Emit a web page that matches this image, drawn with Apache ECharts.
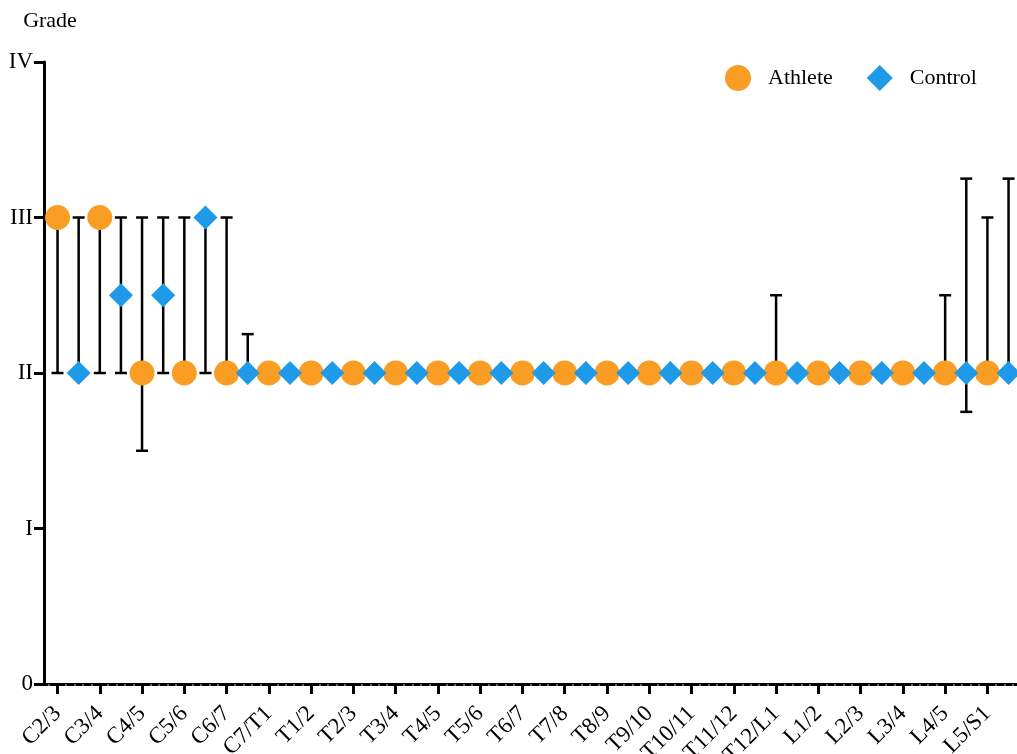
<!DOCTYPE html>
<html>
<head>
<meta charset="utf-8">
<script src="https://cdn.jsdelivr.net/npm/echarts@6/dist/echarts.min.js"></script>
<style>
  html, body { margin: 0; padding: 0; background: #fff; }
  #chart { width: 1017px; height: 754px; }
</style>
</head>
<body>
<div id="chart"></div>
<script>
var categories = ["C2/3", "C3/4", "C4/5", "C5/6", "C6/7", "C7/T1", "T1/2", "T2/3", "T3/4", "T4/5",
  "T5/6", "T6/7", "T7/8", "T8/9", "T9/10", "T10/11", "T11/12", "T12/L1", "L1/2", "L2/3", "L3/4", "L4/5", "L5/S1"];
var gradeLabels = ["0", "I", "II", "III", "IV"];

// mean grade per segment
var athlete = [3, 3, 2, 2, 2, 2, 2, 2, 2, 2, 2, 2, 2, 2, 2, 2, 2, 2, 2, 2, 2, 2, 2];
var control = [2, 2.5, 2.5, 3, 2, 2, 2, 2, 2, 2, 2, 2, 2, 2, 2, 2, 2, 2, 2, 2, 2, 2, 2];

// error bar ends (null = no bar)
var athleteLow  = [2, 2, 1.5, 2, 2, null, null, null, null, null, null, null, null, null, null, null, null, 2, null, null, null, 2, 2];
var athleteHigh = [3, 3, 3, 3, 3, null, null, null, null, null, null, null, null, null, null, null, null, 2.5, null, null, null, 2.5, 3];
var controlLow  = [2, 2, 2, 2, 2, null, null, null, null, null, null, null, null, null, null, null, null, null, null, null, null, 1.75, 2];
var controlHigh = [3, 3, 3, 3, 2.25, null, null, null, null, null, null, null, null, null, null, null, null, null, null, null, null, 3.25, 3.25];

var controlShift = 0.5;
var FONT = "Liberation Serif";

var athletePts = athlete.map(function (v, i) { return [i, v]; });
var controlPts = control.map(function (v, i) { return [i + controlShift, v]; });

var errData = [];
athleteLow.forEach(function (lo, i) {
  if (lo !== null) errData.push([i, lo, athleteHigh[i]]);
});
controlLow.forEach(function (lo, i) {
  if (lo !== null) errData.push([i + controlShift, lo, controlHigh[i]]);
});

var tickValues = categories.map(function (c, i) { return i; });
// small ticks, 5 per category step
var minorValues = [-0.2];
for (var k = 0; k < categories.length; k++) {
  for (var m = 1; m < 5; m++) minorValues.push(k + m / 5);
}

var chart = echarts.init(document.getElementById("chart"));

function renderErr(params, api) {
  var x = api.value(0);
  var top = api.coord([x, api.value(2)]);
  var bot = api.coord([x, api.value(1)]);
  var cap = 6;
  var style = { stroke: "#000", lineWidth: 2.5 };
  return {
    type: "group",
    children: [
      { type: "line", shape: { x1: top[0], y1: top[1], x2: bot[0], y2: bot[1] }, style: style },
      { type: "line", shape: { x1: top[0] - cap, y1: top[1], x2: top[0] + cap, y2: top[1] }, style: style },
      { type: "line", shape: { x1: bot[0] - cap, y1: bot[1], x2: bot[0] + cap, y2: bot[1] }, style: style }
    ]
  };
}

chart.setOption({
  animation: false,
  textStyle: { fontFamily: FONT },
  grid: { left: 44, right: 0, top: 62, bottom: 70, containLabel: false, outerBoundsMode: "none" },
  legend: {
    left: 720,
    top: 60,
    itemWidth: 26,
    itemHeight: 26,
    itemGap: 34,
    textStyle: { fontFamily: FONT, fontSize: 22, color: "#000", padding: [0, 0, 0, 12] },
    data: [
      { name: "Athlete", icon: "circle" },
      { name: "Control", icon: "diamond" }
    ]
  },
  xAxis: [
    {
      type: "value",
      min: -0.32,
      max: 22.7,
      splitLine: { show: false },
      axisLine: { show: true, onZero: false, lineStyle: { color: "#000", width: 3 } },
      axisTick: { show: true, customValues: tickValues, length: 10, lineStyle: { color: "#000", width: 3 } },
      axisLabel: {
        customValues: tickValues,
        rotate: 45,
        margin: 26,
        fontFamily: FONT,
        fontSize: 23,
        color: "#000",
        formatter: function (v) {
          var i = Math.round(v);
          return categories[i] !== undefined ? categories[i] : "";
        }
      }
    },
    {
      type: "value",
      position: "bottom",
      min: -0.32,
      max: 22.7,
      splitLine: { show: false },
      axisLine: { show: false },
      axisTick: { show: true, customValues: minorValues, length: 2, lineStyle: { color: "#888", width: 1.5 } },
      axisLabel: { show: false }
    }
  ],
  yAxis: {
    type: "value",
    min: 0,
    max: 4,
    interval: 1,
    name: "Grade",
    nameLocation: "end",
    nameGap: 30,
    nameTextStyle: { fontFamily: FONT, fontSize: 22, color: "#000", padding: [0, 0, 0, 12] },
    splitLine: { show: false },
    axisLine: { show: true, onZero: false, lineStyle: { color: "#000", width: 3 } },
    axisTick: { show: true, length: 10, lineStyle: { color: "#000", width: 3 } },
    axisLabel: {
      margin: 11,
      fontFamily: FONT,
      fontSize: 23,
      color: "#000",
      formatter: function (v) { return gradeLabels[Math.round(v)]; }
    }
  },
  series: [
    {
      type: "custom",
      name: "err",
      renderItem: renderErr,
      encode: { x: 0, y: [1, 2] },
      data: errData,
      z: 1,
      silent: true
    },
    {
      name: "Athlete",
      type: "scatter",
      symbol: "circle",
      symbolSize: 25,
      itemStyle: { color: "#F99D25", opacity: 1 },
      data: athletePts,
      z: 3
    },
    {
      name: "Control",
      type: "scatter",
      symbol: "diamond",
      symbolSize: 24,
      itemStyle: { color: "#1E9AE9", opacity: 1 },
      data: controlPts,
      z: 3
    }
  ]
});
</script>
</body>
</html>
